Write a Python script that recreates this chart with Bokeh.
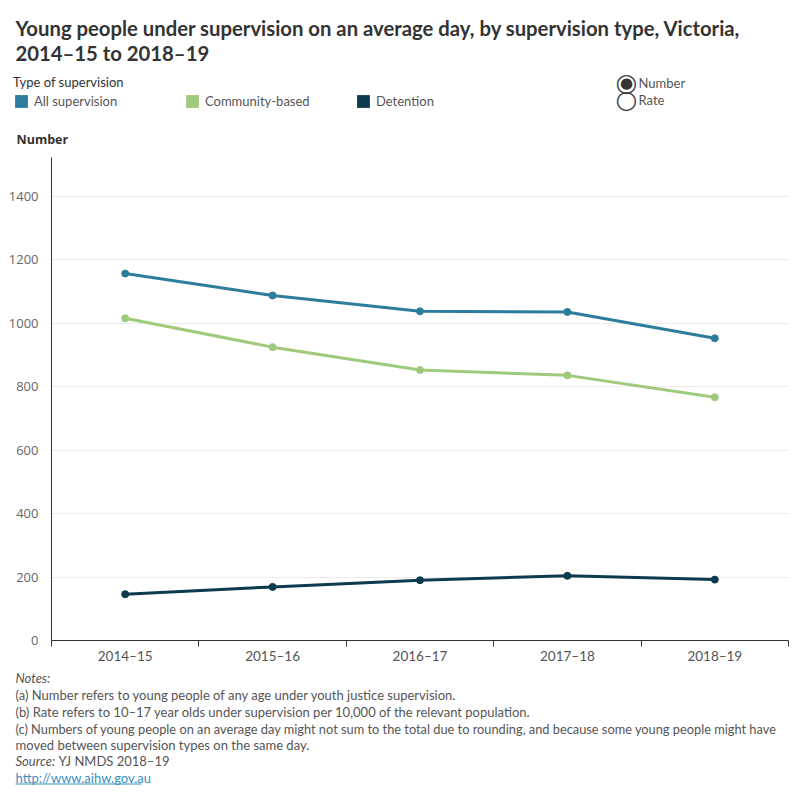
from bokeh.plotting import figure
from bokeh.layouts import column
from bokeh.models import (Range1d, FixedTicker, Label, Legend, LegendItem,
                          ColumnDataSource, BoxAnnotation)
from bokeh.embed import file_html
from bokeh.resources import INLINE

# ---------------- data ----------------
years = ["2014–15", "2015–16", "2016–17", "2017–18", "2018–19"]
all_supervision = [1157, 1088, 1038, 1036, 953]
community_based = [1016, 925, 853, 836, 767]
detention = [146, 169, 190, 204, 192]
series_names = ["All supervision", "Community-based", "Detention"]
y_ticks = [0, 200, 400, 600, 800, 1000, 1200, 1400]

colors = ["#2c7d9b", "#9fca7c", "#0c3a4f"]

# ---------------- layout constants ----------------
W = 800
HEAD_H = 150          # header block: 0..150
MAIN_TOP = HEAD_H
MAIN_H = 516          # chart block: 150..666
FOOT_TOP = MAIN_TOP + MAIN_H
FOOT_H = 800 - FOOT_TOP
FL, FR, FT, FB = 51, 788, 157, 640
FONT = "Lato"
TICKFONT = "Open Sans"


def blank(height):
    f = figure(width=W, height=height, x_range=Range1d(0, W), y_range=Range1d(0, height),
               output_backend="svg", toolbar_location=None, x_axis_type=None, y_axis_type=None,
               min_border=0, min_border_left=0, min_border_right=0,
               min_border_top=0, min_border_bottom=0)
    f.title.visible = False
    f.outline_line_color = None
    f.xgrid.visible = False
    f.ygrid.visible = False
    f.background_fill_color = "white"
    f.border_fill_color = "white"
    f.frame_align = False
    return f


head = blank(HEAD_H)
foot = blank(FOOT_H)


def lbl(fig, top, height, text, x, y, size="13px", color="#555555", style="normal",
        font=FONT, align="left", baseline="middle"):
    fig.add_layout(Label(x=x, y=height - (y - top), x_units="screen", y_units="screen",
                         text=text, text_font=font, text_font_size=size, text_color=color,
                         text_font_style=style, text_align=align, text_baseline=baseline))


# ---------------- main chart ----------------
x_pos = [i + 0.5 for i in range(len(years))]

p = figure(width=W, height=MAIN_H, x_range=Range1d(0, len(years)), y_range=Range1d(0, 1523),
           output_backend="svg", toolbar_location=None,
           min_border_left=FL, min_border_right=W - FR,
           min_border_top=FT - MAIN_TOP, min_border_bottom=FOOT_TOP - FB)
p.title.visible = False
p.outline_line_color = None
p.background_fill_color = "white"
p.border_fill_color = "white"
p.frame_align = False

p.yaxis.ticker = FixedTicker(ticks=y_ticks)
p.yaxis.major_tick_line_color = None
p.yaxis.minor_tick_line_color = None
p.yaxis.axis_line_color = "#333333"
p.yaxis.major_label_text_font = TICKFONT
p.yaxis.major_label_text_font_size = "13px"
p.yaxis.major_label_text_color = "#666666"
p.yaxis.major_label_standoff = 7

p.xaxis.ticker = FixedTicker(ticks=x_pos, minor_ticks=list(range(len(years) + 1)))
p.xaxis.major_label_overrides = {x: y for x, y in zip(x_pos, years)}
p.xaxis.major_tick_line_color = None
p.xaxis.minor_tick_line_color = "#333333"
p.xaxis.minor_tick_in = 0
p.xaxis.minor_tick_out = 6
p.xaxis.axis_line_color = "#333333"
p.xaxis.major_label_text_font = FONT
p.xaxis.major_label_text_font_size = "13.5px"
p.xaxis.major_label_text_color = "#555555"
p.xaxis.major_label_standoff = 1

p.xgrid.visible = False
p.ygrid.ticker = FixedTicker(ticks=y_ticks[1:])
p.ygrid.grid_line_color = "#ececec"

series = [all_supervision, community_based, detention]
for name, vals, c in zip(series_names, series, colors):
    src = ColumnDataSource(dict(x=x_pos, y=vals))
    p.line("x", "y", source=src, line_color=c, line_width=3)
    p.scatter("x", "y", source=src, size=7, fill_color=c, line_color=c)

# ---------------- header ----------------
hl = lambda *a, **k: lbl(head, 0, HEAD_H, *a, **k)
hl("Young people under supervision on an average day, by supervision type, Victoria,",
   15, 27, size="20.3px", color="#333333", style="bold")
hl("2014–15 to 2018–19", 15, 52, size="20.3px", color="#333333", style="bold")

nan = float("nan")
proxies = [head.quad(left=[nan], right=[nan], top=[nan], bottom=[nan],
                     fill_color=c, line_color=None) for c in colors]
legend = Legend(items=[LegendItem(label=n, renderers=[r]) for n, r in zip(series_names, proxies)],
                orientation="horizontal", location=(13, HEAD_H - 109),
                title="Type of supervision", title_text_font=FONT, title_text_font_size="13px",
                title_text_font_style="normal", title_text_color="#333333", title_standoff=3,
                label_text_font=FONT, label_text_font_size="13px", label_text_color="#555555",
                glyph_width=16, glyph_height=16, label_height=16, label_width=150,
                label_standoff=5, spacing=0, padding=0, margin=0,
                border_line_color=None, background_fill_alpha=0)
head.add_layout(legend, "center")

hl("○", 626, 82, size="25px", color="#444444", font="DejaVu Sans", align="center")
hl("●", 626, 82, size="15px", color="#333333", font="DejaVu Sans", align="center")
hl("○", 626, 99, size="25px", color="#444444", font="DejaVu Sans", align="center")
hl("Number", 638, 82, color="#555555")
hl("Rate", 638, 99, color="#555555")

hl("Number", 16, 139, size="12.5px", color="#333333", style="bold", font=TICKFONT)

# ---------------- footer ----------------
fl = lambda *a, **k: lbl(foot, FOOT_TOP, FOOT_H, *a, **k)
fl("Notes:", 15, 677, style="italic")
fl("(a) Number refers to young people of any age under youth justice supervision.", 15, 694)
fl("(b) Rate refers to 10–17 year olds under supervision per 10,000 of the relevant population.", 15, 711)
fl("(c) Numbers of young people on an average day might not sum to the total due to rounding, "
   "and because some young people might have", 15, 728, size="12.8px")
fl("moved between supervision types on the same day.", 15, 744)
fl("Source:", 15, 760, style="italic")
fl("YJ NMDS 2018–19", 58, 760)
fl("http://www.aihw.gov.au", 15, 777, color="#3b8fc0")
foot.add_layout(BoxAnnotation(left=15, right=141, bottom=FOOT_H - (784 - FOOT_TOP),
                              top=FOOT_H - (783 - FOOT_TOP),
                              left_units="screen", right_units="screen",
                              top_units="screen", bottom_units="screen",
                              fill_color="#3b8fc0", fill_alpha=1, line_color=None))

layout = column(head, p, foot, spacing=0)
open("out.html", "w").write(file_html(layout, INLINE))
